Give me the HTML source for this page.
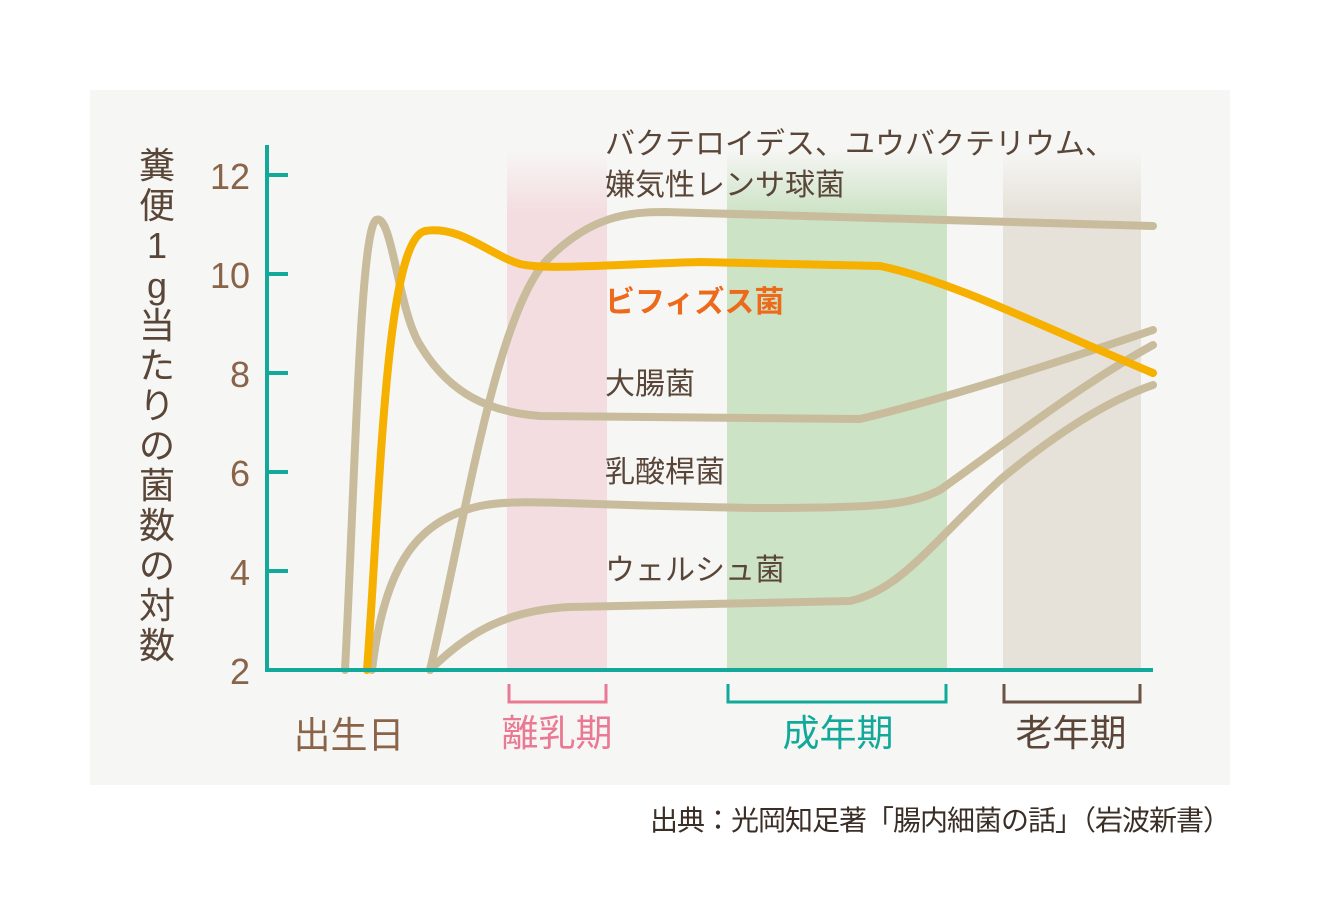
<!DOCTYPE html>
<html><head><meta charset="utf-8"><style>
html,body{margin:0;padding:0;background:#fff;}
svg{display:block}
text{font-family:"Liberation Sans","Noto Sans CJK JP",sans-serif;}
</style></head><body>
<svg width="1320" height="901" viewBox="0 0 1320 901" xmlns="http://www.w3.org/2000/svg">
<defs>
<linearGradient id="gp" x1="0" y1="0" x2="0" y2="1"><stop offset="0" stop-color="#f4dde0" stop-opacity="0"/><stop offset="0.12" stop-color="#f4dde0"/><stop offset="1" stop-color="#f4dde0"/></linearGradient>
<linearGradient id="gg" x1="0" y1="0" x2="0" y2="1"><stop offset="0" stop-color="#cde3c6" stop-opacity="0"/><stop offset="0.12" stop-color="#cde3c6"/><stop offset="1" stop-color="#cde3c6"/></linearGradient>
<linearGradient id="gy" x1="0" y1="0" x2="0" y2="1"><stop offset="0" stop-color="#e6e2da" stop-opacity="0"/><stop offset="0.12" stop-color="#e6e2da"/><stop offset="1" stop-color="#e6e2da"/></linearGradient>
</defs>
<rect x="90" y="90" width="1140" height="695" fill="#f6f6f4"/>
<rect x="507" y="150" width="100" height="518" fill="url(#gp)"/>
<rect x="727" y="150" width="220" height="518" fill="url(#gg)"/>
<rect x="1003" y="150" width="138" height="518" fill="url(#gy)"/>
<g fill="none" stroke="#c9bc9c" stroke-width="8" stroke-linecap="round">
<path d="M345,670 C355,480 360,230 376,220 C392,212 398,310 420,345 C450,395 490,412 540,416 L860,419 C940,400 1050,365 1153,330"/>
<path d="M430,670 C465,520 495,320 545,262 C590,215 630,212 665,212 L1153,226"/>
<path d="M372,670 C385,560 420,520 480,506 C520,498 560,505 760,508 C880,508 910,505 940,490 C1010,440 1080,385 1153,345"/>
<path d="M430,670 C470,630 510,610 570,607 L850,601 C900,590 930,545 1000,480 C1060,430 1110,400 1153,385"/>
</g>
<path d="M367,670 C380,500 385,240 425,231 C460,225 490,255 520,264 C545,270 600,265 700,262 L880,266 C950,280 1050,330 1153,373" fill="none" stroke="#f6b000" stroke-width="8" stroke-linecap="round"/>
<g stroke="#13a99a" stroke-width="4" fill="none">
<line x1="267" y1="145" x2="267" y2="672"/>
<line x1="265" y1="670" x2="1153" y2="670"/>
<line x1="267" y1="175" x2="288" y2="175"/><line x1="267" y1="274" x2="288" y2="274"/><line x1="267" y1="373" x2="288" y2="373"/><line x1="267" y1="472" x2="288" y2="472"/><line x1="267" y1="571" x2="288" y2="571"/>
</g>
<g fill="none" stroke-width="3">
<path d="M509,684 V702 H606 V684" stroke="#ea7a94"/>
<path d="M728,684 V702 H946 V684" stroke="#13a99a"/>
<path d="M1004,684 V702 H1140 V684" stroke="#6b5444"/>
</g>
<g fill="#8a6449" font-size="36" text-anchor="end">
<text x="250" y="189">12</text><text x="250" y="288">10</text><text x="250" y="387">8</text><text x="250" y="486">6</text><text x="250" y="585">4</text><text x="250" y="684">2</text>
</g>
<g fill="#5a4638" font-size="36" text-anchor="middle">
<text x="157" y="178">糞</text><text x="157" y="218">便</text><text x="157" y="258">1</text><text x="157" y="298">g</text><text x="157" y="338">当</text><text x="157" y="378">た</text><text x="157" y="418">り</text><text x="157" y="458">の</text><text x="157" y="498">菌</text><text x="157" y="538">数</text><text x="157" y="578">の</text><text x="157" y="618">対</text><text x="157" y="658">数</text>
</g>
<g font-size="30" fill="#5a4638">
<text x="605" y="154">バクテロイデス、ユウバクテリウム、</text>
<text x="605" y="195">嫌気性レンサ球菌</text>
<text x="605" y="394">大腸菌</text>
<text x="605" y="482">乳酸桿菌</text>
<text x="605" y="580">ウェルシュ菌</text>
<text x="605" y="312" fill="#ec6a1a" font-weight="bold">ビフィズス菌</text>
</g>
<g font-size="37" text-anchor="middle">
<text x="349" y="748" fill="#8a6449">出生日</text>
<text x="557" y="746" fill="#ea7a94">離乳期</text>
<text x="838" y="746" fill="#13a99a">成年期</text>
<text x="1071" y="746" fill="#5a4638">老年期</text>
</g>
<text x="1230" y="830" font-size="28" fill="#3a2e26" text-anchor="end" letter-spacing="-1">出典：光岡知足著「腸内細菌の話」（岩波新書）</text>
</svg>
</body></html>
